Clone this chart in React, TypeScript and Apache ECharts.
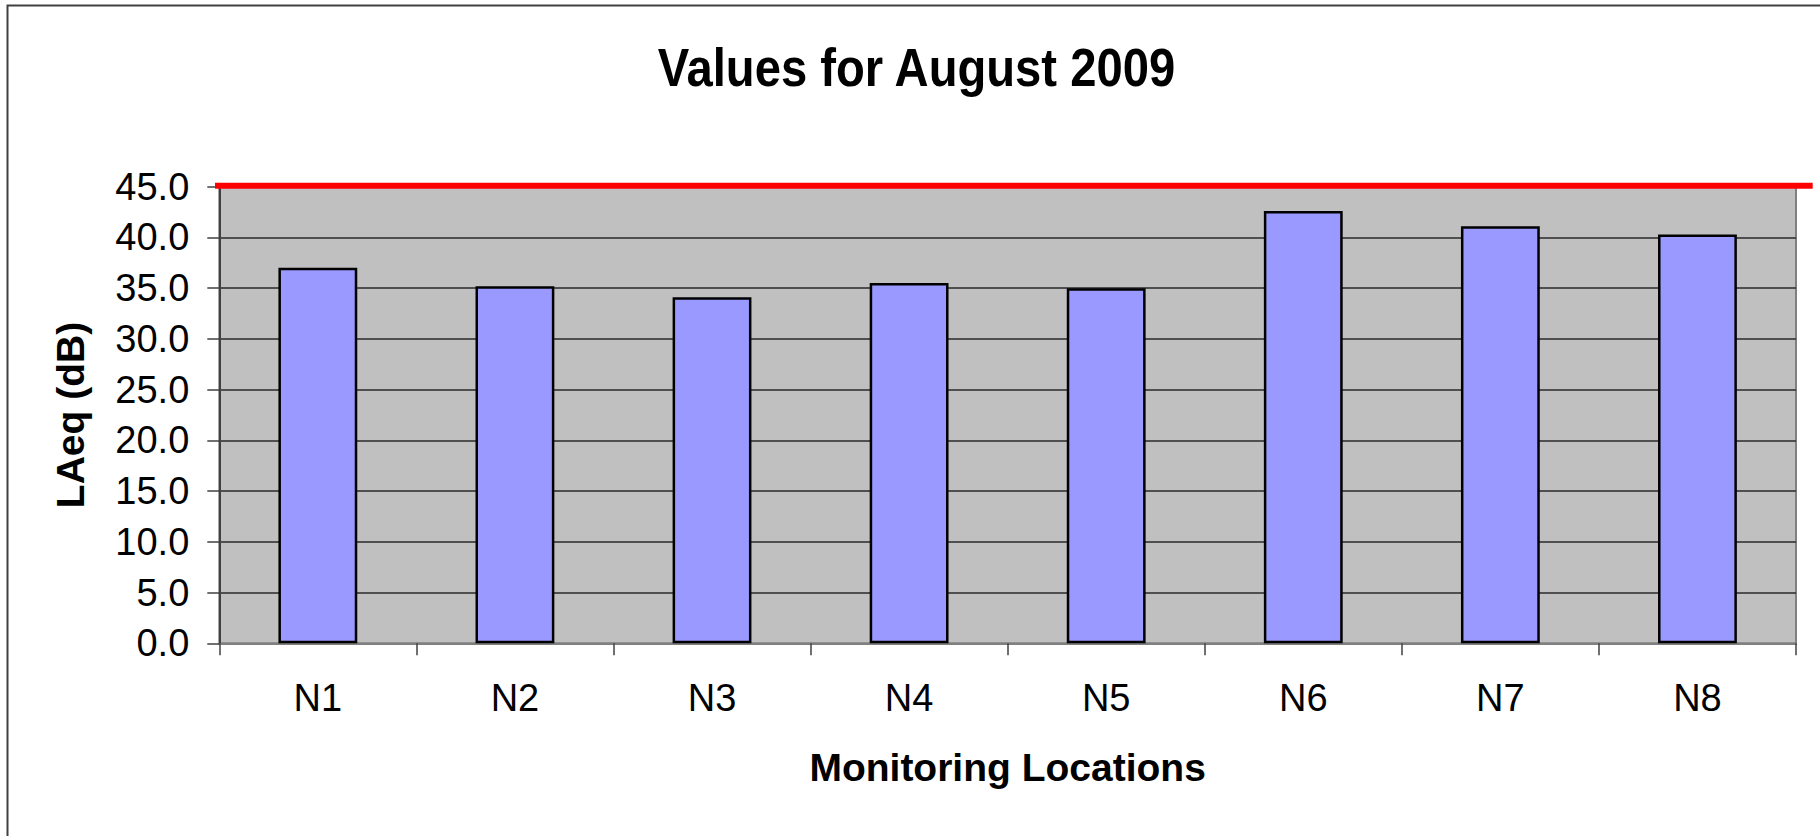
import React, { useEffect, useRef } from 'react';
import * as echarts from 'echarts';

const categories = ['N1', 'N2', 'N3', 'N4', 'N5', 'N6', 'N7', 'N8'];
const laeqValues = [37.0, 35.2, 34.1, 35.5, 35.0, 42.6, 41.1, 40.3];
const yMin = 0;
const yMax = 45;
const yInterval = 5;
const limitValue = 45;
const titleText = 'Values for August 2009';
const xAxisTitle = 'Monitoring Locations';
const yAxisTitle = 'LAeq (dB)';

export default function App() {
  const ref = useRef<HTMLDivElement>(null);
  useEffect(() => {
    const chart = echarts.init(ref.current!, null, { renderer: 'svg' });
    const font = "'Liberation Sans', Arial, sans-serif";
    chart.setOption({
      animation: false,
      backgroundColor: '#ffffff',
      grid: {
        left: 219.3,
        right: 24,
        top: 186.7,
        bottom: 192.7,
        show: true,
        backgroundColor: '#C0C0C0',
        borderColor: '#808080',
        borderWidth: 2,
        containLabel: false,
        outerBoundsMode: 'none',
      },
      xAxis: {
        type: 'category',
        data: categories,
        axisLine: { show: true, lineStyle: { color: '#808080', width: 2 } },
        axisTick: { show: true, interval: 0, length: 12, lineStyle: { color: '#404040', width: 1.5 } },
        axisLabel: { interval: 0, color: '#000', fontSize: 38, fontFamily: font, margin: 36 },
        splitLine: { show: false },
        name: xAxisTitle,
        nameLocation: 'middle',
        nameGap: 105,
        nameTextStyle: { fontSize: 39, fontWeight: 'bold', color: '#000', fontFamily: font },
      },
      yAxis: {
        type: 'value',
        min: yMin,
        max: yMax,
        interval: yInterval,
        axisLine: { show: true, lineStyle: { color: '#404040', width: 2 } },
        axisTick: { show: true, length: 12, lineStyle: { color: '#404040', width: 1.5 } },
        axisLabel: {
          color: '#000',
          fontSize: 38,
          fontFamily: font,
          margin: 30,
          formatter: (v: number) => v.toFixed(1),
        },
        splitLine: { show: true, lineStyle: { color: '#2a2a2a', width: 1.5 } },
        name: yAxisTitle,
        nameLocation: 'middle',
        nameRotate: 90,
        nameGap: 129,
        nameTextStyle: { fontSize: 39, fontWeight: 'bold', color: '#000', fontFamily: font },
      },
      series: [
        {
          type: 'bar',
          data: laeqValues,
          barWidth: '40%',
          itemStyle: { color: '#9999FF', borderColor: '#000000', borderWidth: 2.5 },
        },
      ],
    });
    const yLimit = chart.convertToPixel({ yAxisIndex: 0 }, limitValue) as number;
    chart.setOption({
      graphic: [
        {
          type: 'rect',
          silent: true,
          z: 100,
          shape: { x: 7.5, y: 5.5, width: 1850, height: 900 },
          style: { fill: 'none', stroke: '#404040', lineWidth: 2 },
        },
        {
          type: 'line',
          silent: true,
          z: 100,
          shape: { x1: 215, y1: yLimit - 1, x2: 1812.7, y2: yLimit - 1 },
          style: { stroke: '#FF0000', lineWidth: 6 },
        },
        {
          type: 'text',
          silent: true,
          z: 100,
          x: 916.4,
          y: 67,
          scaleX: 0.874,
          style: {
            text: titleText,
            fontSize: 54,
            fontWeight: 'bold',
            fontFamily: font,
            fill: '#000',
            align: 'center',
            verticalAlign: 'middle',
          },
        },
      ],
    });
    return () => chart.dispose();
  }, []);
  return (
    <div
      ref={ref}
      style={{ position: 'fixed', left: 0, top: 0, width: 1820, height: 836 }}
    />
  );
}
